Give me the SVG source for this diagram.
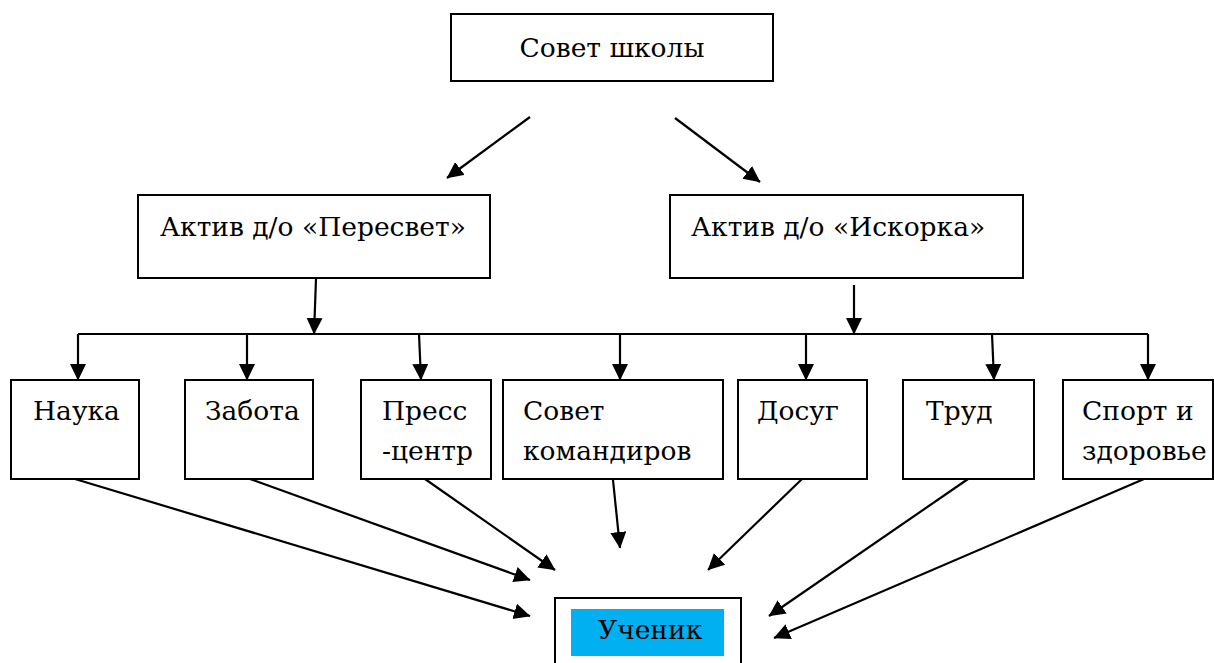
<svg xmlns="http://www.w3.org/2000/svg" width="1214" height="663" viewBox="0 0 1214 663">
<style>
.box{fill:#fff;stroke:#000;stroke-width:2}
.t{font-family:'DejaVu Serif','Liberation Serif',serif;font-size:26.5px;fill:#000}
.c{fill:none;stroke:#000;stroke-width:2.2}
.a{marker-end:url(#ah)}
</style>
<defs>
<marker id="ah" markerUnits="userSpaceOnUse" markerWidth="18" markerHeight="18" refX="16" refY="8" orient="auto">
<path d="M0,0 L16.5,8 L0,16 z" fill="#000"/>
</marker>
</defs>
<rect width="1214" height="663" fill="#fff"/>
<g id="connectors">
<line class="c a" x1="530" y1="117" x2="447" y2="178"/>
<line class="c a" x1="675" y1="118" x2="760" y2="182" stroke="#333"/>
<line class="c a" x1="316" y1="279" x2="314" y2="334"/>
<line class="c a" x1="854" y1="285" x2="854" y2="334"/>
<polyline class="c" points="78,334 1148,334"/>
<line class="c a" x1="78" y1="334" x2="78" y2="380"/>
<line class="c a" x1="247" y1="334" x2="247" y2="380"/>
<line class="c a" x1="419" y1="334" x2="421" y2="380"/>
<line class="c a" x1="620" y1="334" x2="620" y2="380"/>
<line class="c a" x1="806" y1="334" x2="806" y2="380"/>
<line class="c a" x1="992" y1="334" x2="994" y2="380"/>
<line class="c a" x1="1148" y1="334" x2="1148" y2="380"/>
<line class="c a" x1="75" y1="479" x2="530" y2="616"/>
<line class="c a" x1="250" y1="479" x2="530" y2="580"/>
<line class="c a" x1="425" y1="479" x2="555" y2="570"/>
<line class="c a" x1="613" y1="480" x2="620" y2="548"/>
<line class="c a" x1="802" y1="479" x2="708" y2="570"/>
<line class="c a" x1="968" y1="479" x2="769" y2="616"/>
<line class="c a" x1="1144" y1="479" x2="774" y2="638"/>
</g>
<g id="n-sovet-shkoly">
<rect class="box" x="451" y="14" width="322" height="67"/>
<text class="t" x="612" y="57" text-anchor="middle">Совет школы</text>
</g>
<g id="n-peresvet">
<rect class="box" x="138" y="195" width="352" height="83"/>
<text class="t" x="160" y="236">Актив д/о «Пересвет»</text>
</g>
<g id="n-iskorka">
<rect class="box" x="670" y="195" width="353" height="83"/>
<text class="t" x="691" y="236">Актив д/о «Искорка»</text>
</g>
<g id="n-nauka">
<rect class="box" x="11" y="380" width="128" height="99"/>
<text class="t" x="33" y="420">Наука</text>
</g>
<g id="n-zabota">
<rect class="box" x="185" y="380" width="128" height="99"/>
<text class="t" x="205" y="420">Забота</text>
</g>
<g id="n-press">
<rect class="box" x="361" y="380" width="130" height="99"/>
<text class="t" x="382" y="420">Пресс</text>
<text class="t" x="382" y="460">-центр</text>
</g>
<g id="n-sovet-komandirov">
<rect class="box" x="503" y="380" width="220" height="99"/>
<text class="t" x="523" y="420">Совет</text>
<text class="t" x="523" y="460">командиров</text>
</g>
<g id="n-dosug">
<rect class="box" x="738" y="380" width="129" height="99"/>
<text class="t" x="757" y="420">Досуг</text>
</g>
<g id="n-trud">
<rect class="box" x="903" y="380" width="131" height="99"/>
<text class="t" x="926" y="420">Труд</text>
</g>
<g id="n-sport">
<rect class="box" x="1063" y="380" width="150" height="99"/>
<text class="t" x="1082" y="420">Спорт и</text>
<text class="t" x="1082" y="460">здоровье</text>
</g>
<g id="n-uchenik">
<rect class="box" x="555" y="598" width="186" height="80"/>
<rect x="571" y="609" width="153" height="47" fill="#00B0F0"/>
<text class="t" x="598" y="639">Ученик</text>
</g>
</svg>
